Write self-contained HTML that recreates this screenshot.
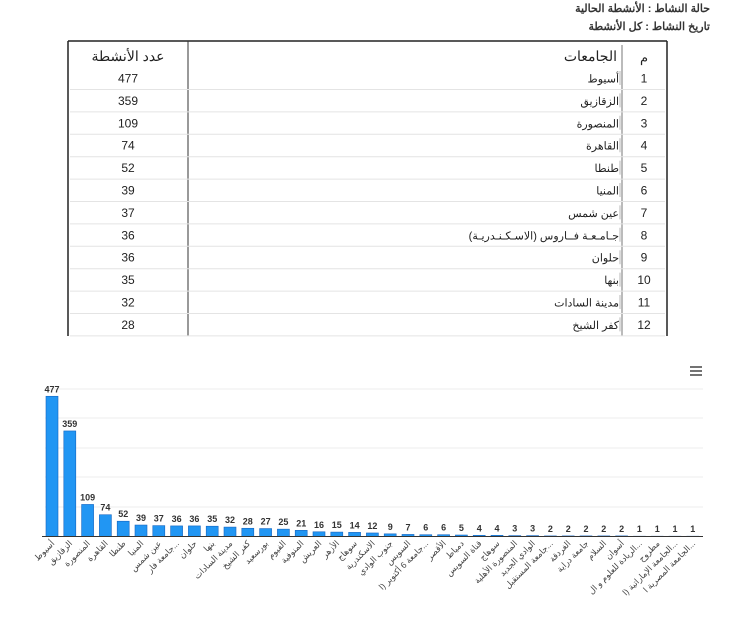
<!DOCTYPE html>
<html><head><meta charset="utf-8"><style>
body{margin:0;background:#fff;width:736px;height:630px;overflow:hidden;font-family:"Liberation Sans","Noto Sans CJK SC",sans-serif}
</style></head><body>
<svg width="736" height="630" xmlns="http://www.w3.org/2000/svg" font-family="Liberation Sans, Noto Sans CJK SC, sans-serif">
<text x="710" y="12" text-anchor="end" font-size="11" font-weight="bold" fill="#333">حالة النشاط : الأنشطة الحالية</text>
<text x="710" y="30" text-anchor="end" font-size="11" font-weight="bold" fill="#333">تاريخ النشاط : كل الأنشطة</text>
<!-- table -->
<line x1="68" y1="41" x2="667" y2="41" stroke="#222" stroke-width="1.5"/>
<line x1="68" y1="41" x2="68" y2="336" stroke="#222" stroke-width="1.5"/>
<line x1="667" y1="41" x2="667" y2="336" stroke="#222" stroke-width="1.5"/>
<line x1="188" y1="41" x2="188" y2="336" stroke="#333" stroke-width="1"/>
<line x1="622" y1="45" x2="622" y2="336" stroke="#555" stroke-width="0.8"/>
<g stroke="#e4e4e4" stroke-width="1" id="rows"></g>
<text x="128" y="61" text-anchor="middle" font-size="14" fill="#222">عدد الأنشطة</text>
<text x="617" y="61" text-anchor="end" font-size="14" fill="#222">الجامعات</text>
<text x="644" y="62" text-anchor="middle" font-size="13" fill="#222">م</text>
<g id="tbl" font-size="12" fill="#222"></g>
<!-- chart -->
<g stroke="#eeeeee" stroke-width="1">
<line x1="45" y1="389" x2="703" y2="389"/><line x1="45" y1="418" x2="703" y2="418"/>
<line x1="45" y1="448" x2="703" y2="448"/><line x1="45" y1="477" x2="703" y2="477"/>
<line x1="45" y1="507" x2="703" y2="507"/>
</g>
<g id="bars"></g>
<line x1="42" y1="536.5" x2="703" y2="536.5" stroke="#333" stroke-width="1"/>
<g stroke="#444" stroke-width="1.5"><line x1="690" y1="367" x2="702" y2="367"/><line x1="690" y1="371" x2="702" y2="371"/><line x1="690" y1="375" x2="702" y2="375"/></g>
</svg>
<script>
var ns="http://www.w3.org/2000/svg";
function el(p,t,a,txt){var e=document.createElementNS(ns,t);for(var k in a)e.setAttribute(k,a[k]);if(txt!=null)e.textContent=txt;p.appendChild(e);return e;}
var tn=["أسيوط","الزقازيق","المنصورة","القاهرة","طنطا","المنيا","عين شمس","جـامـعـة فــاروس (الاسـكـنـدريـة)","حلوان","بنها","مدينة السادات","كفر الشيخ"];
var tv=[477,359,109,74,52,39,37,36,36,35,32,28];
var tbl=document.getElementById("tbl"),rows=document.getElementById("rows");
for(var i=0;i<12;i++){var cy=78+i*22.4;
el(rows,"line",{x1:70,y1:cy+11.5,x2:665,y2:cy+11.5});
el(tbl,"text",{x:128,y:cy+4.5,"text-anchor":"middle"},tv[i]);
el(tbl,"text",{x:644,y:cy+4.5,"text-anchor":"middle"},i+1);
el(tbl,"text",{x:619,y:cy+4.5,"text-anchor":"end","font-size":"11"},tn[i]);
el(tbl,"line",{x1:620,y1:cy-7,x2:620,y2:cy+7,stroke:"#999","stroke-width":0.7});}
var v=[477,359,109,74,52,39,37,36,36,35,32,28,27,25,21,16,15,14,12,9,7,6,6,5,4,4,3,3,2,2,2,2,2,1,1,1,1];
var nm=["أسيوط","الزقازيق","المنصورة","القاهرة","طنطا","المنيا","عين شمس","جامعة فار...","حلوان","بنها","مدينة السادات","كفر الشيخ","بورسعيد","الفيوم","المنوفية","العريش","الأزهر","سوهاج","الاسكندرية","جنوب الوادي","السويس","جامعة 6 أكتوبر (ا...","الأقصر","دمياط","قناة السويس","سوهاج","المنصورة الأهلية","الوادي الجديد","جامعة المستقبل...","الغردقة","جامعة دراية","السلام","أسوان","الريادة للعلوم و ال...","مطروح","الجامعة الإماراتية (ا...","الجامعة المصرية ا..."];
var g=document.getElementById("bars");
for(var i=0;i<v.length;i++){var cx=52+i*17.8,h=v[i]*147/500;
el(g,"rect",{x:cx-6,y:536.5-h,width:12,height:h,fill:"#2196f3",stroke:"#1565c0","stroke-width":0.6});
el(g,"text",{x:cx,y:536.5-h-4,"text-anchor":"middle","font-size":"9",fill:"#333","font-weight":"bold"},v[i]);
el(g,"text",{x:cx+3,y:544,"text-anchor":"end","font-size":"8.5",fill:"#444",transform:"rotate(-45 "+(cx+3)+" 544)"},nm[i]);}
</script>
</body></html>
